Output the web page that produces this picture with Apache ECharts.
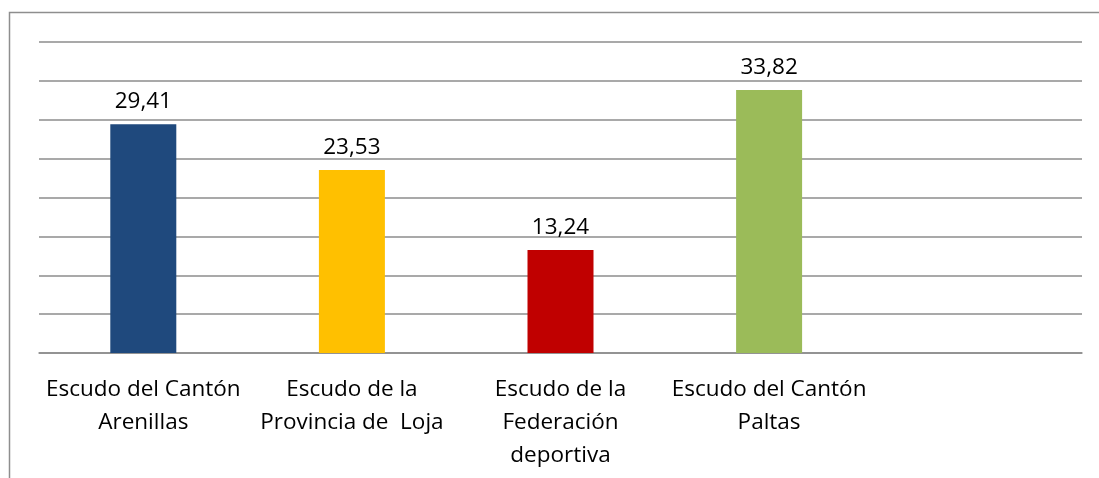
<!DOCTYPE html>
<html>
<head>
<meta charset="utf-8">
<script src="https://cdn.jsdelivr.net/npm/echarts@6/dist/echarts.min.js"></script>
<style>
  html, body { margin: 0; padding: 0; background: #fff; }
  #chart { width: 1099px; height: 478px; }
</style>
</head>
<body>
<div id="chart"></div>
<script>
const categories = [
  'Escudo del Cantón\nArenillas',
  'Escudo de la\nProvincia de  Loja',
  'Escudo de la\nFederación\ndeportiva',
  'Escudo del Cantón\nPaltas',
  ''
]
const values = [29.41, 23.53, 13.24, 33.82, null]
const barColors = ['#1F497D', '#FFC000', '#C00000', '#9BBB59', '#4F81BD']

const myChart = echarts.init(document.getElementById('chart'))
const option = {
  animation: false,
  textStyle: { fontFamily: 'Open Sans' },
  graphic: [
    {
      type: 'polyline',
      shape: { points: [[9.5, 478], [9.5, 12.5], [1099, 12.5]] },
      style: { stroke: '#8e8e8e', lineWidth: 1.5, fill: null },
    },
  ],
  grid: { left: 39, right: 17, top: 42, bottom: 125 },
  xAxis: {
    type: 'category',
    data: categories,
    axisTick: { show: false },
    axisLine: { lineStyle: { color: '#8c8c8c', width: 1.5 } },
    axisLabel: {
      interval: 0,
      margin: 20,
      fontSize: 22.5,
      lineHeight: 33,
      color: '#000',
      fontFamily: 'Open Sans',
    },
  },
  yAxis: {
    type: 'value',
    min: 0,
    max: 40,
    interval: 5,
    axisLabel: { show: false },
    axisLine: { show: false },
    axisTick: { show: false },
    splitLine: { lineStyle: { color: '#8c8c8c', width: 1.5 } },
  },
  series: [
    {
      type: 'bar',
      barWidth: 66,
      data: values.map((v, i) => ({ value: v, itemStyle: { color: barColors[i] } })),
      label: {
        show: true,
        position: 'top',
        distance: 11,
        fontSize: 22.5,
        color: '#000',
        fontFamily: 'Open Sans',
        formatter: p => (p.value == null ? '' : p.value.toFixed(2).replace('.', ',')),
      },
    },
  ],
}
myChart.setOption(option)
</script>
</body>
</html>
